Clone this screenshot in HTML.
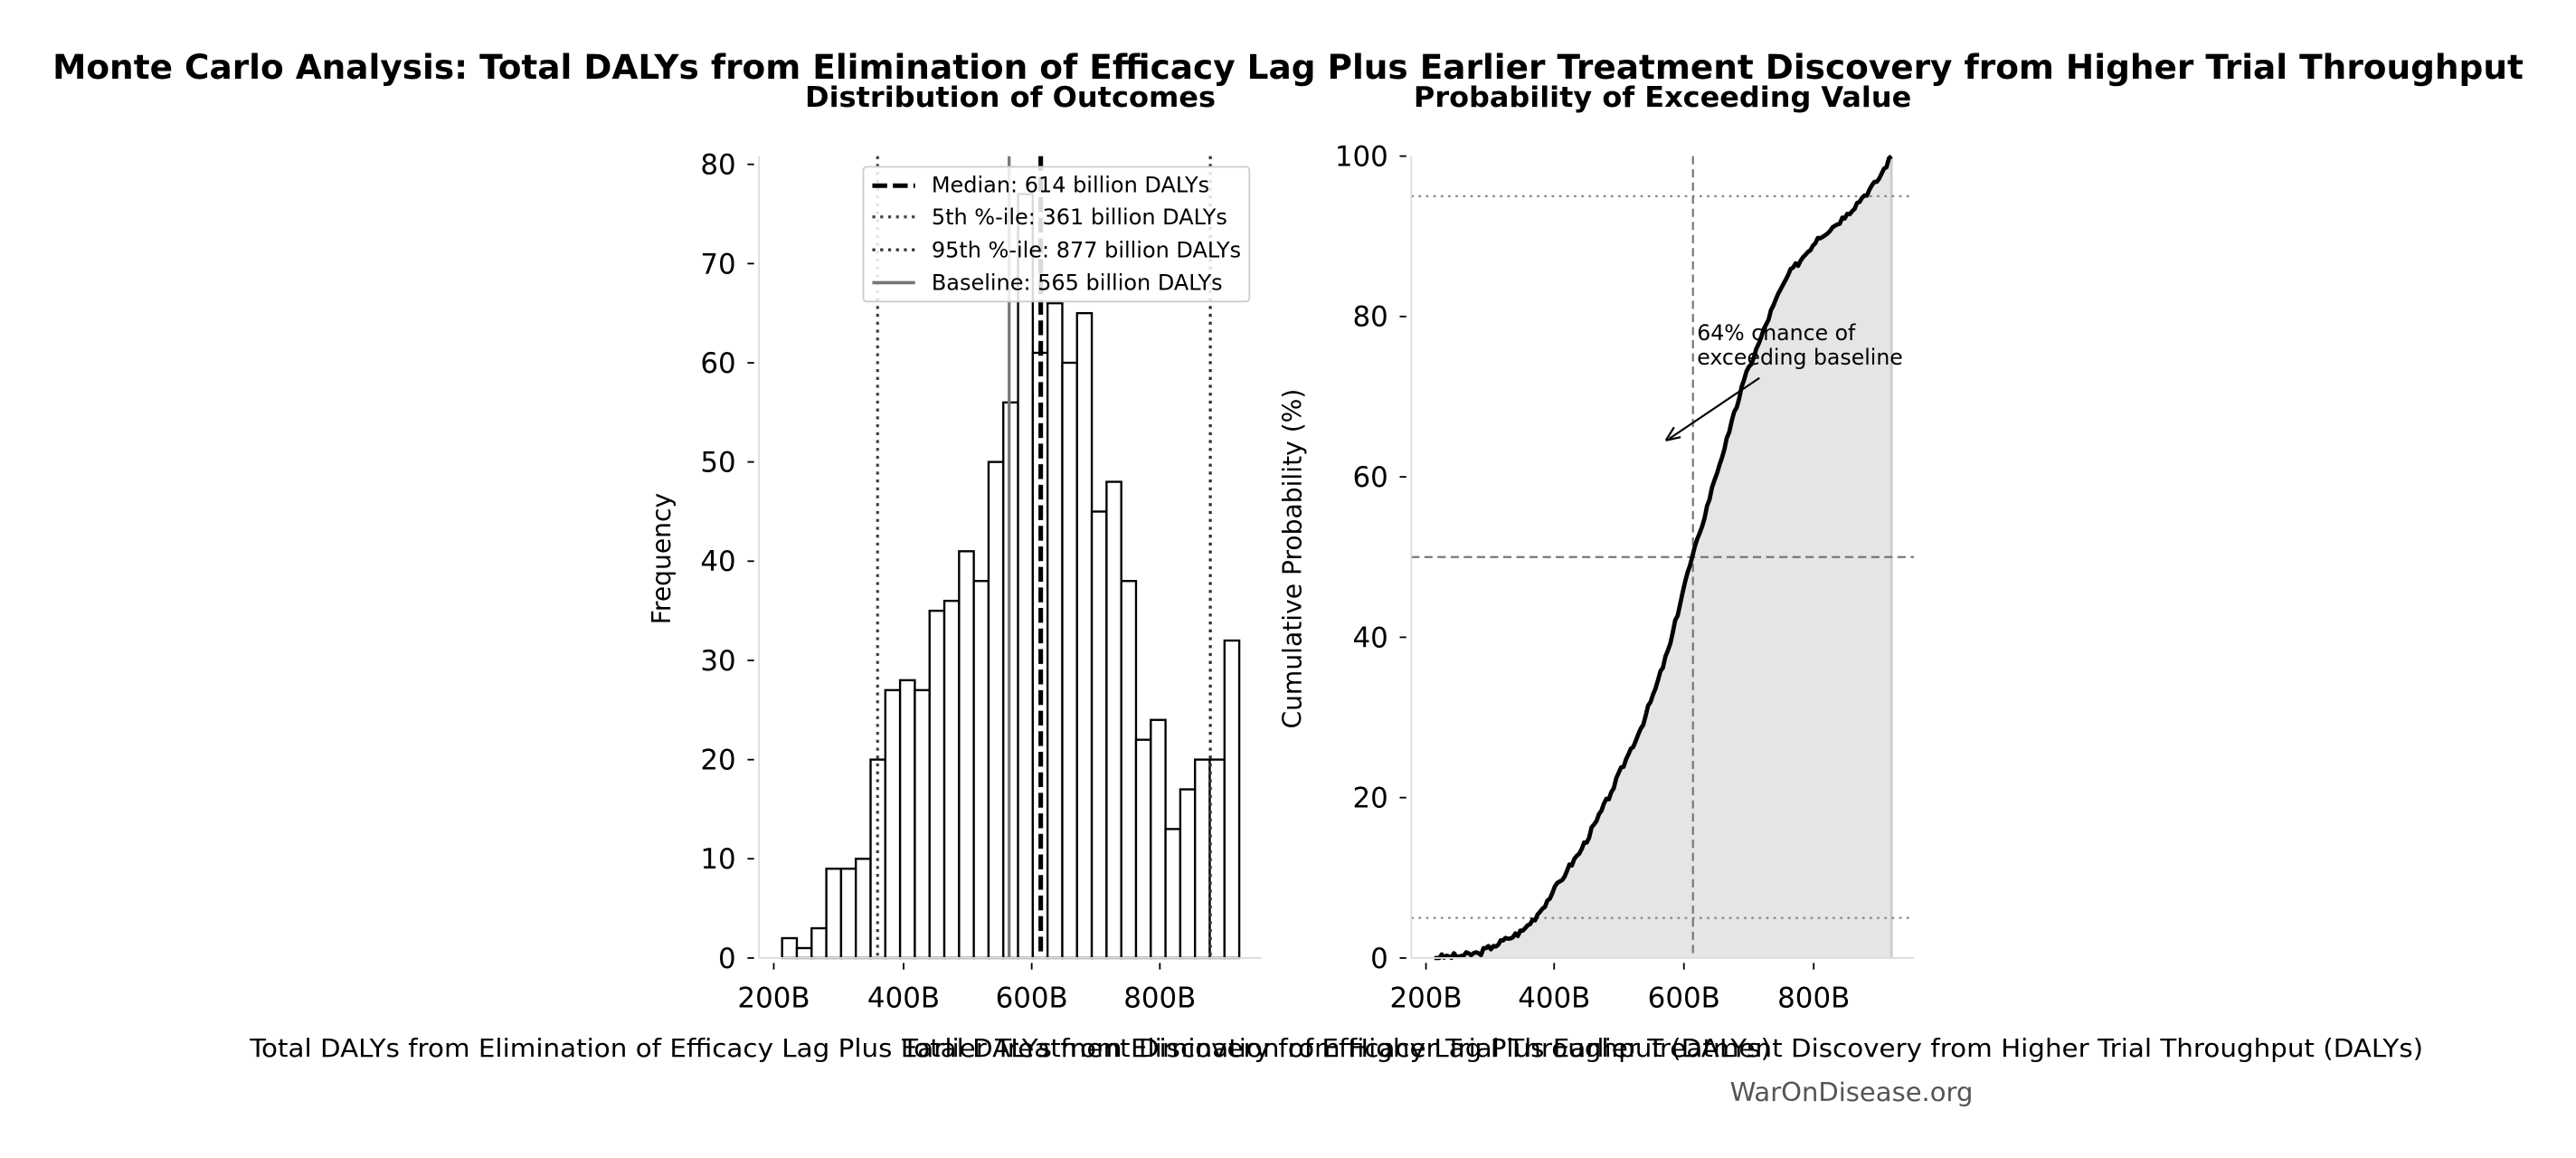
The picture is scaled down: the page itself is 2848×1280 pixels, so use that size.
<!DOCTYPE html>
<html><head><meta charset="utf-8"><style>
html,body{margin:0;padding:0;background:#fff;}
svg{display:block;font-family:"DejaVu Sans","Liberation Sans",sans-serif;}
</style></head><body>
<svg id="s" width="2848" height="1280" viewBox="0 0 1568 704.7" xmlns="http://www.w3.org/2000/svg">
<rect width="1568" height="705" fill="#fff"/>
<text x="784" y="48" font-size="20.5" font-weight="bold" text-anchor="middle" textLength="1504" lengthAdjust="spacingAndGlyphs">Monte Carlo Analysis: Total DALYs from Elimination of Efficacy Lag Plus Earlier Treatment Discovery from Higher Trial Throughput</text>
<text x="615" y="65" font-size="17.3" font-weight="bold" text-anchor="middle" textLength="250" lengthAdjust="spacingAndGlyphs">Distribution of Outcomes</text>
<text x="1012" y="65" font-size="17.3" font-weight="bold" text-anchor="middle" textLength="303" lengthAdjust="spacingAndGlyphs">Probability of Exceeding Value</text>

<!-- left axes -->
<g id="left"></g>
<line x1="462" y1="95" x2="462" y2="583" stroke="#ddd" stroke-width="1"/>
<line x1="462" y1="583" x2="768" y2="583" stroke="#ddd" stroke-width="1"/>
<g font-size="17" text-anchor="end">
<text x="448" y="589">0</text><text x="448" y="528.6">10</text><text x="448" y="468.3">20</text><text x="448" y="407.9">30</text><text x="448" y="347.5">40</text><text x="448" y="287.1">50</text><text x="448" y="226.8">60</text><text x="448" y="166.4">70</text><text x="448" y="106">80</text>
</g>
<g stroke="#000" stroke-width="1">
<line x1="455" y1="583" x2="459" y2="583"/><line x1="455" y1="522.6" x2="459" y2="522.6"/><line x1="455" y1="462.3" x2="459" y2="462.3"/><line x1="455" y1="401.9" x2="459" y2="401.9"/><line x1="455" y1="341.5" x2="459" y2="341.5"/><line x1="455" y1="281.1" x2="459" y2="281.1"/><line x1="455" y1="220.8" x2="459" y2="220.8"/><line x1="455" y1="160.4" x2="459" y2="160.4"/><line x1="455" y1="100" x2="459" y2="100"/>
<line x1="471" y1="586" x2="471" y2="590"/><line x1="550" y1="586" x2="550" y2="590"/><line x1="628" y1="586" x2="628" y2="590"/><line x1="706" y1="586" x2="706" y2="590"/>
</g>
<g font-size="17" text-anchor="middle">
<text x="471" y="613">200B</text><text x="550" y="613">400B</text><text x="628" y="613">600B</text><text x="706" y="613">800B</text>
</g>
<text transform="translate(408,340) rotate(-90)" font-size="15.5" text-anchor="middle">Frequency</text>

<!-- legend -->
<rect x="525.5" y="101.5" width="235" height="82" fill="#fff" fill-opacity="0.85" stroke="#ccc" stroke-width="1" rx="2"/>
<line x1="531" y1="113" x2="557" y2="113" stroke="#000" stroke-width="2.8" stroke-dasharray="9,3.5"/>
<line x1="531" y1="132" x2="557" y2="132" stroke="#444" stroke-width="1.8" stroke-dasharray="1.8,3"/>
<line x1="531" y1="152" x2="557" y2="152" stroke="#333" stroke-width="1.8" stroke-dasharray="1.8,3"/>
<line x1="531" y1="172" x2="557" y2="172" stroke="#777" stroke-width="2"/>
<g font-size="13.2">
<text x="567" y="117">Median: 614 billion DALYs</text>
<text x="567" y="136.5">5th %-ile: 361 billion DALYs</text>
<text x="567" y="156.5">95th %-ile: 877 billion DALYs</text>
<text x="567" y="176.5">Baseline: 565 billion DALYs</text>
</g>

<!-- right axes -->
<g id="right"></g>
<line x1="859" y1="95" x2="859" y2="583" stroke="#ddd" stroke-width="1"/>
<line x1="859" y1="583" x2="1165" y2="583" stroke="#ddd" stroke-width="1"/>
<g font-size="17" text-anchor="end">
<text x="845" y="589">0</text><text x="845" y="491.4">20</text><text x="845" y="393.8">40</text><text x="845" y="296.2">60</text><text x="845" y="198.6">80</text><text x="845" y="101">100</text>
</g>
<g stroke="#000" stroke-width="1">
<line x1="852" y1="583" x2="856" y2="583"/><line x1="852" y1="485.4" x2="856" y2="485.4"/><line x1="852" y1="387.8" x2="856" y2="387.8"/><line x1="852" y1="290.2" x2="856" y2="290.2"/><line x1="852" y1="192.6" x2="856" y2="192.6"/><line x1="852" y1="95" x2="856" y2="95"/>
<line x1="868" y1="586" x2="868" y2="590"/><line x1="946" y1="586" x2="946" y2="590"/><line x1="1025" y1="586" x2="1025" y2="590"/><line x1="1104" y1="586" x2="1104" y2="590"/>
</g>
<g font-size="17" text-anchor="middle">
<text x="868" y="613">200B</text><text x="946" y="613">400B</text><text x="1025" y="613">600B</text><text x="1104" y="613">800B</text>
</g>
<text transform="translate(792,340) rotate(-90)" font-size="15.5" text-anchor="middle">Cumulative Probability (%)</text>
<text x="1033" y="207" font-size="13">64% chance of</text>
<text x="1033" y="222" font-size="13">exceeding baseline</text>
<line x1="1071" y1="230" x2="1016" y2="267" stroke="#000" stroke-width="1.2"/>
<path d="M1014,268 L1019,260 M1014,268 L1023,266" stroke="#000" stroke-width="1.2" fill="none"/>

<text x="615" y="643" font-size="15" text-anchor="middle" textLength="926" lengthAdjust="spacingAndGlyphs">Total DALYs from Elimination of Efficacy Lag Plus Earlier Treatment Discovery from Higher Trial Throughput (DALYs)</text>
<text x="1012" y="643" font-size="15" text-anchor="middle" textLength="926" lengthAdjust="spacingAndGlyphs">Total DALYs from Elimination of Efficacy Lag Plus Earlier Treatment Discovery from Higher Trial Throughput (DALYs)</text>
<text x="1127" y="670" font-size="15.5" fill="#555" text-anchor="middle" textLength="148" lengthAdjust="spacingAndGlyphs">WarOnDisease.org</text>
</svg>
<script>
(function(){
var NS="http://www.w3.org/2000/svg";
function el(p,t,a){var e=document.createElementNS(NS,t);for(var k in a)e.setAttribute(k,a[k]);p.appendChild(e);return e;}
var c=[2,1,3,9,9,10,20,27,28,27,35,36,41,38,50,56,77,61,66,60,65,45,48,38,22,24,13,17,20,20,32];
var v0=212.9,w=22.87;
var L=document.getElementById('left');
function lx(v){return 471+(v-200)*0.3925;}
function ly(n){return 583-n*6.0375;}
for(var i=0;i<c.length;i++){
 var a=lx(v0+i*w),b=lx(v0+(i+1)*w);
 el(L,'rect',{x:a,y:ly(c[i]),width:b-a,height:583-ly(c[i]),fill:'#fff',stroke:'#000','stroke-width':1.3});
}
function vl(v,col,sw,da){el(L,'line',{x1:lx(v),y1:95,x2:lx(v),y2:583,stroke:col,'stroke-width':sw,'stroke-dasharray':da||'none'});}
vl(565,'#777',1.8);vl(361,'#444',1.8,'1.8,3');vl(877,'#333',1.8,'1.8,3');vl(614,'#000',2.8,'9,3.5');
var R=document.getElementById('right');
function rx(v){return 868+(v-200)*0.3925;}
function ry(p){return 583-p*4.88;}
var pts=[],cum=0,seed=3;
function rnd(){seed=(seed*9301+49297)%233280;return seed/233280;}
pts.push([rx(v0),ry(0)]);
for(var i=0;i<c.length;i++){
 var steps=6;
 for(var s=1;s<=steps;s++){
  var v=v0+(i+s/steps)*w;
  var p=(cum+c[i]*s/steps)/10;
  var j=(s<steps)?(rnd()-0.5)*0.8:0;
  pts.push([rx(v),ry(Math.min(100,Math.max(0,p+j)))]);
 }
 cum+=c[i];
}
var d='M'+pts.map(function(q){return q[0].toFixed(1)+','+q[1].toFixed(1);}).join(' L');
var xe=pts[pts.length-1][0];
el(R,'path',{d:d+' L'+xe+',583 L'+pts[0][0]+',583 Z',fill:'#e5e5e5',stroke:'none'});
el(R,'line',{x1:xe,y1:95,x2:xe,y2:583,stroke:'#ccc','stroke-width':1.5});
el(R,'line',{x1:859,y1:ry(95),x2:1165,y2:ry(95),stroke:'#888','stroke-width':1.2,'stroke-dasharray':'1.5,3'});
el(R,'line',{x1:859,y1:ry(5),x2:1165,y2:ry(5),stroke:'#888','stroke-width':1.2,'stroke-dasharray':'1.5,3'});
el(R,'line',{x1:859,y1:ry(50),x2:1165,y2:ry(50),stroke:'#777','stroke-width':1.2,'stroke-dasharray':'5,3'});
el(R,'line',{x1:rx(614),y1:95,x2:rx(614),y2:583,stroke:'#777','stroke-width':1.2,'stroke-dasharray':'5,3'});
el(R,'path',{d:d,fill:'none',stroke:'#000','stroke-width':2.6,'stroke-linejoin':'round'});
})();
</script>
</body></html>
